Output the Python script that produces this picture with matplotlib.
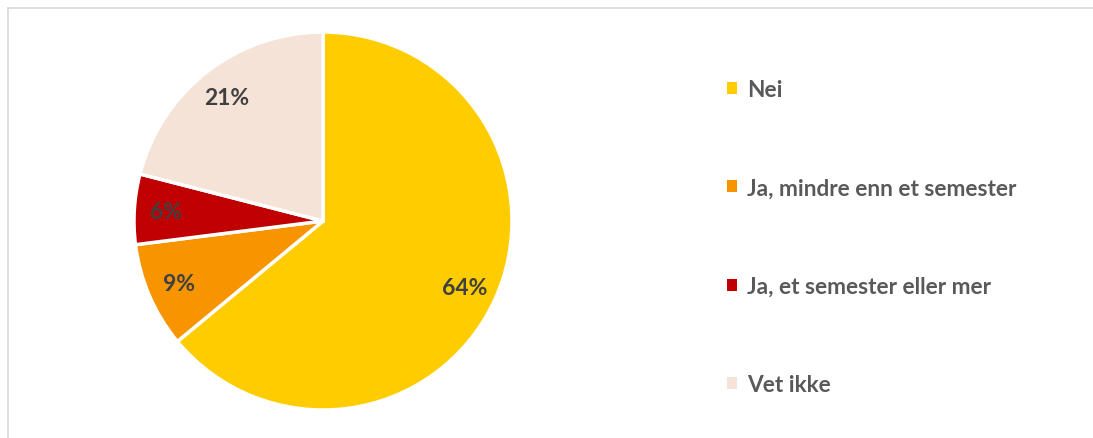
import matplotlib
matplotlib.use("Agg")
import matplotlib.pyplot as plt
from matplotlib.patches import Patch
from matplotlib.lines import Line2D

labels = ["Nei", "Ja, mindre enn et semester", "Ja, et semester eller mer", "Vet ikke"]
values = [64, 9, 6, 21]
colors = ["#FFCC00", "#F79400", "#C00000", "#F6E3D8"]

plt.rcParams['font.family'] = ['Lato', 'DejaVu Sans']

W, H = 1093, 439
fig = plt.figure(figsize=(W / 100, H / 100), dpi=100)

cx, cy, r = 323, 222, 189
ax = fig.add_axes([(cx - r) / W, (H - cy - r) / H, 2 * r / W, 2 * r / H])
wedges, texts, autotexts = ax.pie(
    values, colors=colors, startangle=90, counterclock=False,
    autopct=lambda p: f"{p:.0f}%", pctdistance=0.83,
    wedgeprops=dict(edgecolor="white", linewidth=2.5),
    textprops=dict(fontsize=16.5, fontweight="bold", color="#404040"),
)
ax.set_xlim(-1, 1)
ax.set_ylim(-1, 1)
ax.set_aspect("equal")
ax.axis("off")

handles = [Patch(facecolor=c, edgecolor="none") for c in colors]
leg = fig.legend(handles, labels, loc="upper left",
                 bbox_to_anchor=(727 / W, 1 - 80 / H), frameon=False,
                 prop=dict(family=['Lato', 'DejaVu Sans'], size=16.3, weight="bold"),
                 handlelength=0.42, handleheight=0.42, handletextpad=0.45,
                 labelspacing=3.42, borderpad=0, borderaxespad=0)
for t in leg.get_texts():
    t.set_color("#595959")

# outer frame (top and left edges)
fig.add_artist(Line2D([8 / W, 1], [1 - 9 / H, 1 - 9 / H], color="#D9D9D9", lw=1.2,
                      transform=fig.transFigure))
fig.add_artist(Line2D([8 / W, 8 / W], [0, 1 - 9 / H], color="#D9D9D9", lw=1.2,
                      transform=fig.transFigure))

fig.savefig("out.png", dpi=100)
